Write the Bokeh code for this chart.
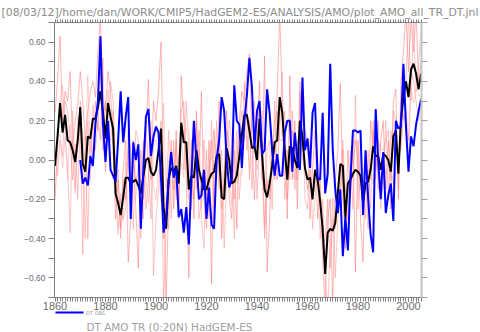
import json
from bokeh.plotting import figure
from bokeh.models import (Range1d, LinearAxis, FixedTicker, CustomJSTickFormatter, Title)
from bokeh.embed import file_html
from bokeh.resources import INLINE

# ---------------- data ----------------
years = list(range(1860, 2006))
obs_years = list(range(1870, 2006))

ens_mean = [
    -0.03, 0.12, 0.29, 0.14, 0.23, 0.10, 0.09, 0.05, -0.01, 0.10,
    0.27, -0.02, -0.06, 0.12, 0.11, 0.21, 0.21, 0.27, 0.35, 0.24,
    0.11, 0.29, 0.22, 0.16, -0.17, -0.22, -0.28, -0.19, -0.09, -0.09,
    -0.12, -0.11, -0.10, -0.13, -0.17, -0.08, 0.00, 0.01, -0.06, -0.08,
    -0.05, 0.05, 0.16, -0.24, -0.35, -0.10, -0.04, -0.06, -0.03, -0.12,
    0.19, 0.09, 0.09, -0.15, -0.08, -0.09, 0.05, -0.05, -0.10, -0.15,
    -0.15, -0.10, -0.07, -0.06, 0.02, 0.03, -0.19, -0.20, 0.06, 0.00,
    -0.12, -0.11, -0.08, 0.02, 0.13, 0.23, 0.23, 0.15, 0.06, 0.07,
    0.00, 0.21, 0.03, -0.15, -0.19, -0.12, -0.03, 0.09, 0.10, 0.32,
    0.24, 0.05, -0.10, 0.07, 0.06, 0.00, -0.04, 0.20, 0.12, -0.04,
    -0.10, -0.09, -0.20, -0.05, -0.10, -0.21, -0.35, -0.58, -0.37, -0.35,
    -0.36, -0.32, -0.17, -0.02, -0.03, -0.29, -0.12, -0.10, -0.07, -0.05,
    -0.06, -0.08, -0.22, -0.12, -0.11, -0.05, 0.07, 0.02, 0.02, -0.05,
    0.03, 0.02, 0.00, -0.06, 0.12, 0.15, -0.07, 0.20, 0.32, 0.40,
    0.32, 0.46, 0.49, 0.44, 0.36, 0.44,
]

obs = [
    0.00, -0.12, -0.09, -0.13, 0.02, -0.03, 0.18, 0.30, 0.63, 0.18,
    -0.01, 0.20, -0.05, -0.08, -0.11, 0.10, 0.35, 0.09, 0.22, 0.32,
    -0.30, 0.09, 0.00, 0.08, -0.35, -0.05, 0.22, 0.26, 0.02, 0.12,
    0.17, 0.14, -0.10, -0.37, -0.30, -0.10, 0.04, -0.09, -0.04, -0.29,
    -0.25, -0.37, -0.24, -0.43, -0.10, 0.20, 0.00, -0.20, -0.18, -0.05,
    -0.30, -0.14, -0.33, -0.35, 0.00, 0.10, 0.32, 0.25, 0.00, -0.14,
    -0.10, 0.38, 0.20, 0.18, -0.04, 0.20, 0.33, 0.52, 0.37, 0.06,
    0.25, 0.30, 0.03, 0.05, 0.36, 0.24, 0.05, -0.08, 0.03, -0.08,
    -0.08, 0.14, 0.20, 0.20, -0.06, 0.14, 0.00, -0.05, 0.42, 0.05,
    0.11, -0.04, 0.24, 0.29, -0.09, -0.10, 0.24, -0.17, -0.07, 0.49,
    0.05, -0.15, -0.27, -0.15, -0.49, -0.29, -0.46, -0.10, 0.15, 0.15,
    0.14, 0.15, -0.28, 0.05, -0.19, -0.38, -0.47, 0.26, 0.00, -0.20,
    0.04, -0.27, -0.18, -0.12, -0.31, 0.20, 0.16, 0.17, 0.49, 0.17,
    -0.06, 0.12, 0.07, 0.18, 0.25, 0.31,
]

member1 = [
    0.24, 0.40, 0.63, 0.20, 0.35, 0.30, 0.45, 0.05, 0.20, 0.28,
    0.45, 0.30, 0.10, 0.25, 0.35, 0.40, 0.32, 0.55, 0.72, 0.30,
    0.25, 0.45, 0.35, 0.05, -0.30, -0.10, -0.35, -0.05, 0.10, -0.52,
    -0.30, 0.10, -0.25, -0.55, 0.05, -0.20, 0.15, 0.41, -0.10, 0.30,
    0.20, 0.35, 0.60, -0.10, -0.75, -0.20, 0.10, -0.25, 0.15, -0.30,
    0.43, 0.20, -0.10, -0.60, 0.10, -0.30, 0.25, -0.10, 0.35, -0.20,
    -0.35, 0.10, -0.63, 0.15, -0.10, 0.30, -0.40, -0.05, 0.25, -0.20,
    -0.30, 0.05, -0.35, 0.20, 0.35, 0.30, 0.45, 0.54, 0.10, -0.20,
    0.15, 0.40, -0.10, 0.53, -0.57, -0.30, 0.10, -0.10, 0.35, 0.75,
    0.30, 0.10, -0.30, 0.43, -0.10, 0.20, -0.25, 0.35, 0.05, 0.15,
    0.10, -0.30, -0.05, 0.15, -0.30, -0.10, -0.50, -0.75, -0.30, -0.20,
    -0.75, -0.10, 0.05, 0.39, -0.20, -0.40, 0.05, -0.20, 0.10, -0.57,
    0.10, -0.30, -0.52, 0.05, -0.35, 0.20, 0.05, 0.25, -0.15, 0.10,
    0.20, -0.15, 0.10, -0.25, 0.30, 0.36, -0.20, 0.40, 0.55, 0.75,
    0.45, 0.72, 0.55, 0.75, 0.40, 0.50,
]

member2 = [
    -0.20, 0.05, 0.30, 0.38, 0.15, -0.05, -0.37, 0.25, -0.15, 0.10,
    0.30, -0.05, -0.40, 0.20, -0.10, 0.28, 0.05, 0.20, 0.10, 0.52,
    -0.05, 0.20, 0.40, 0.30, -0.05, -0.35, -0.20, -0.30, -0.25, 0.15,
    0.05, -0.35, 0.15, 0.10, -0.40, 0.10, -0.25, -0.10, 0.20, -0.59,
    -0.30, -0.15, 0.05, -0.40, -0.20, 0.15, -0.30, 0.10, -0.20, 0.05,
    0.10, -0.05, 0.30, 0.05, -0.25, 0.10, -0.15, 0.15, -0.30, -0.45,
    0.05, -0.30, 0.20, -0.25, 0.20, -0.15, 0.05, -0.45, -0.10, 0.20,
    0.10, -0.40, 0.15, -0.20, 0.00, 0.40, 0.05, 0.20, -0.15, 0.30,
    -0.20, 0.10, 0.25, -0.40, 0.05, 0.10, -0.25, 0.30, -0.10, 0.20,
    0.45, -0.20, 0.05, -0.10, 0.25, -0.15, 0.10, 0.10, 0.30, -0.20,
    -0.25, 0.10, -0.35, -0.20, 0.05, -0.40, -0.20, -0.60, -0.75, -0.45,
    -0.20, -0.60, -0.30, -0.15, 0.10, -0.15, -0.30, 0.05, -0.25, 0.33,
    -0.25, 0.15, -0.10, -0.30, 0.05, -0.25, 0.20, -0.10, 0.20, -0.25,
    -0.10, 0.20, -0.20, 0.15, 0.05, 0.10, 0.05, 0.05, 0.30, 0.40,
    0.75, 0.30, 0.72, 0.35, 0.50, 0.65,
]

member3 = [
    0.05, -0.08, 0.10, 0.02, 0.30, 0.25, 0.10, -0.10, 0.08, -0.20,
    0.20, -0.48, 0.12, -0.40, 0.15, 0.00, 0.30, 0.15, 0.45, 0.05,
    0.30, 0.15, 0.10, 0.25, -0.15, -0.05, -0.40, -0.10, -0.20, 0.05,
    -0.20, 0.00, -0.10, -0.05, -0.20, -0.30, 0.20, -0.05, -0.30, 0.10,
    0.10, 0.05, 0.20, -0.75, -0.30, -0.35, 0.05, -0.15, 0.10, -0.25,
    0.25, 0.30, 0.00, -0.20, -0.05, -0.20, 0.20, -0.30, -0.20, 0.10,
    -0.20, -0.05, 0.10, -0.30, 0.05, 0.10, -0.25, -0.10, 0.15, 0.10,
    -0.05, -0.20, 0.00, 0.15, 0.25, 0.10, 0.30, -0.10, 0.30, 0.10,
    0.10, 0.30, -0.05, -0.35, -0.10, -0.20, 0.05, 0.20, 0.25, 0.10,
    0.10, 0.25, -0.20, 0.00, 0.15, 0.05, -0.10, 0.40, 0.00, -0.05,
    -0.15, -0.05, -0.20, -0.10, -0.05, -0.15, -0.45, -0.40, -0.20, -0.55,
    -0.30, -0.35, -0.20, -0.20, 0.05, -0.45, -0.10, -0.15, -0.05, 0.10,
    0.00, -0.10, -0.15, -0.10, -0.05, -0.10, 0.15, -0.05, 0.10, 0.05,
    0.05, 0.10, 0.15, -0.10, 0.25, 0.20, -0.15, 0.30, 0.20, 0.25,
    0.10, 0.45, 0.40, 0.30, 0.20, 0.30,
]

member4 = [
    -0.21, 0.11, 0.13, -0.04, 0.12, -0.10, 0.18, 0.00, -0.17, 0.22,
    0.13, 0.15, -0.06, 0.43, 0.04, 0.16, 0.17, 0.18, 0.13, 0.09,
    -0.06, 0.36, 0.03, 0.04, -0.18, -0.38, -0.17, -0.31, -0.01, -0.04,
    -0.03, -0.19, -0.20, -0.02, -0.13, 0.08, -0.10, -0.22, -0.04, -0.13,
    -0.20, -0.05, -0.21, 0.29, -0.15, 0.00, -0.01, 0.06, -0.17, 0.02,
    -0.02, -0.09, 0.16, 0.15, -0.12, 0.04, -0.10, 0.05, -0.25, -0.05,
    -0.10, -0.15, 0.05, 0.16, -0.07, -0.13, -0.16, -0.20, -0.06, -0.10,
    -0.23, 0.11, -0.12, -0.07, -0.08, 0.12, 0.12, -0.04, -0.01, 0.08,
    -0.05, 0.04, 0.02, -0.38, -0.14, -0.08, -0.02, -0.04, -0.10, 0.23,
    0.11, 0.05, 0.05, -0.05, -0.06, -0.10, 0.09, -0.05, 0.13, -0.06,
    -0.10, -0.11, -0.20, -0.05, -0.10, -0.19, -0.25, -0.57, -0.23, -0.20,
    -0.19, -0.23, -0.23, -0.12, -0.07, -0.16, -0.13, -0.10, -0.08, -0.06,
    -0.09, -0.07, -0.11, -0.13, -0.09, -0.05, -0.12, -0.02, -0.07, -0.10,
    -0.03, -0.07, -0.05, -0.04, -0.12, -0.06, 0.02, 0.05, 0.23, 0.20,
    -0.02, 0.37, 0.29, 0.36, 0.34, 0.31,
]

x_ticks = [1860, 1880, 1900, 1920, 1940, 1960, 1980, 2000]
y_ticks = [-0.6, -0.4, -0.2, 0.0, 0.2, 0.4, 0.6]
y_minor = [-0.7, -0.5, -0.3, -0.1, 0.1, 0.3, 0.5, 0.7]

title_text = "[08/03/12]/home/dan/WORK/CMIP5/HadGEM2-ES/ANALYSIS/AMO/plot_AMO_all_TR_DT.jnl"
legend_obs = "DT OBS"
bottom_text = "DT AMO TR (0:20N) HadGEM-ES"

# ---------------- layout ----------------
W, H = 480, 332
FL, FT, FW, FH = 54, 22, 367, 275
X0, X1 = 1859.8, 2005.15
Y0, Y1 = -0.7, 0.7
GREY = "#808080"
LAB = "#6e6e6e"
# legend key (page pixels; must lie inside the frame's horizontal extent)
KEY_X = (55, 83)
KEY_LABEL_X = (86, 104)

p = figure(width=W, height=H,
           min_border_left=FL, min_border_right=W - FL - FW,
           min_border_top=FT, min_border_bottom=H - FT - FH,
           x_range=Range1d(X0, X1), y_range=Range1d(Y0, Y1),
           x_axis_location=None, y_axis_location=None,
           output_backend="svg", toolbar_location=None,
           background_fill_color="white", border_fill_color="white",
           outline_line_color=None)
p.grid.visible = False
# page-pixel range over the frame, used only for the legend key under the axis
p.extra_x_ranges = {"px": Range1d(FL, FL + FW)}

# file-name title (left aligned at the page edge)
p.title.text = title_text
p.title.align = "left"
p.title.offset = 1 - FL
p.title.standoff = 2
p.title.text_font = "DejaVu Sans"
p.title.text_font_style = "normal"
p.title.text_font_size = "10.85px"
p.title.text_color = "#8c8c8c"

fmt = CustomJSTickFormatter(code="return (tick < -1e-9 ? '\u2212' : '') + Math.abs(tick).toFixed(2);")
blank = CustomJSTickFormatter(code="return '';")

left = LinearAxis(ticker=FixedTicker(ticks=y_ticks, minor_ticks=y_minor), formatter=fmt)
left.major_tick_out = 6
left.major_tick_in = 0
left.minor_tick_out = 6
left.minor_tick_in = 0
left.major_label_standoff = 3
left.major_label_text_font = "Liberation Sans"
left.major_label_text_font_size = "8.5px"
left.major_label_text_color = LAB
left.axis_line_color = GREY
left.major_tick_line_color = GREY
left.minor_tick_line_color = GREY
p.add_layout(left, "left")

right = LinearAxis(ticker=FixedTicker(ticks=y_ticks, minor_ticks=y_minor), formatter=blank)
right.major_tick_out = 6
right.major_tick_in = 0
right.minor_tick_out = 6
right.minor_tick_in = 0
right.major_label_standoff = 0
right.major_label_text_font_size = "1px"
right.axis_line_color = "#c4c4c4"
right.axis_line_width = 2
right.major_tick_line_color = "#a0a0a0"
right.minor_tick_line_color = "#a0a0a0"
p.add_layout(right, "right")

top = LinearAxis(ticker=FixedTicker(ticks=x_ticks, minor_ticks=years), formatter=blank)
top.major_tick_out = 3
top.major_tick_in = 0
top.minor_tick_out = 3
top.minor_tick_in = 0
top.major_label_standoff = 0
top.major_label_text_font_size = "1px"
top.axis_line_color = GREY
top.major_tick_line_color = GREY
top.minor_tick_line_color = GREY
p.add_layout(top, "above")

bottom = LinearAxis(ticker=FixedTicker(ticks=x_ticks, minor_ticks=years))
bottom.major_tick_out = 4
bottom.major_tick_in = 0
bottom.minor_tick_out = 4
bottom.minor_tick_in = 0
bottom.major_label_standoff = 0
bottom.major_label_text_font = "Liberation Sans"
bottom.major_label_text_font_size = "11px"
bottom.major_label_text_color = LAB
bottom.axis_line_color = GREY
bottom.major_tick_line_color = GREY
bottom.minor_tick_line_color = GREY
p.add_layout(bottom, "below")

# legend key line: an axis rule in blue, bounded to the key extent
key_line = LinearAxis(x_range_name="px", ticker=FixedTicker(ticks=[]), bounds=KEY_X)
key_line.major_tick_out = 0
key_line.major_tick_in = 0
key_line.minor_tick_out = 0
key_line.minor_tick_in = 0
key_line.major_label_standoff = 0
key_line.axis_line_color = "#0000ff"
key_line.axis_line_width = 2
p.add_layout(key_line, "below")

# legend key label, next to the line
key_mid = (KEY_LABEL_X[0] + KEY_LABEL_X[1]) / 2
key_lab = LinearAxis(x_range_name="px", ticker=FixedTicker(ticks=[key_mid]), bounds=KEY_LABEL_X,
                     formatter=CustomJSTickFormatter(code="return " + json.dumps(legend_obs) + ";"))
key_lab.major_tick_out = 0
key_lab.major_tick_in = 0
key_lab.minor_tick_out = 0
key_lab.minor_tick_in = 0
key_lab.major_label_standoff = -3
key_lab.major_label_text_font = "DejaVu Sans"
key_lab.major_label_text_font_size = "5px"
key_lab.major_label_text_color = "#9a9a9a"
key_lab.axis_line_color = None
p.add_layout(key_lab, "below")

# caption under the legend key
cap = Title(text=bottom_text, align="left", offset=86 - FL, standoff=0,
            text_font="DejaVu Sans", text_font_style="normal",
            text_font_size="10.4px", text_color="#a0a0a0")
p.add_layout(cap, "below")

# ---------------- lines ----------------
p.line(years, member1, line_color="#ff7070", line_alpha=0.5, line_width=1)
p.line(years, member2, line_color="#ff9090", line_alpha=0.5, line_width=1)
p.line(years, member3, line_color="#ff6a6a", line_alpha=0.4, line_width=1)
p.line(years, member4, line_color="#ffa8a8", line_alpha=0.5, line_width=1)
p.line(years, ens_mean, line_color="black", line_width=2)
p.line(obs_years, obs, line_color="#0000ff", line_width=2)

open("out.html", "w").write(file_html(p, INLINE))
